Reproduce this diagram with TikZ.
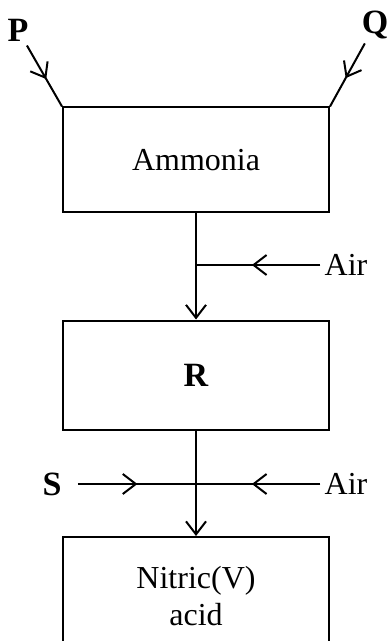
\documentclass[tikz,border=0pt]{standalone}
\usepackage{fontspec}
\setmainfont{Liberation Serif}
\usetikzlibrary{arrows.meta, decorations.markings}
\tikzset{
    every node/.style={font=\fontsize{16}{18.5}\selectfont},
    box/.style={draw, line width=1pt, minimum width=133pt, align=center, inner sep=0pt},
    tag/.style={inner sep=2pt},
    bold/.style={font=\fontsize{17}{18.5}\selectfont\bfseries},
    arrow/.style={-{Straight Barb[length=6.5pt, width=10pt]}, line width=1pt},
    midarrow/.style={line width=1pt, postaction={decorate},
        decoration={markings, mark=at position 0.55 with {\arrow{Straight Barb[length=6.5pt, width=10pt]}}}},
}

\begin{document}
\begin{tikzpicture}[x=0.5pt, y=-0.5pt]
  \clip (0,0) rectangle (387,641);
  \node[box, minimum height=52.5pt] (ammonia) at (196,160) {Ammonia};
  \node[box, minimum height=54.5pt, bold] (r) at (196,375) {R};
  \node[box, minimum height=59pt] (nitric) at (196,596) {Nitric(V)\\acid};
  \node[tag, bold] (p) at (18,30) {P};
  \node[tag, bold] (q) at (375,25) {Q};
  \node[tag, bold] (s) at (52,484) {S};
  \node[tag] (air1) at (346,265) {Air};
  \node[tag] (air2) at (346,484) {Air};
  \coordinate (j1) at (ammonia.south |- air1);
  \coordinate (j2) at (r.south |- air2);
    \draw[midarrow] (p) -- (ammonia.north west);
    \draw[midarrow] (q) -- (ammonia.north east);
    \draw[arrow] (ammonia.south) -- (r.north);
    \draw[midarrow] (air1) -- (j1);
    \draw[arrow] (r.south) -- (nitric.north);
    \draw[midarrow, shorten <=6pt] (s) -- (j2);
    \draw[midarrow] (air2) -- (j2);
\end{tikzpicture}
\end{document}
